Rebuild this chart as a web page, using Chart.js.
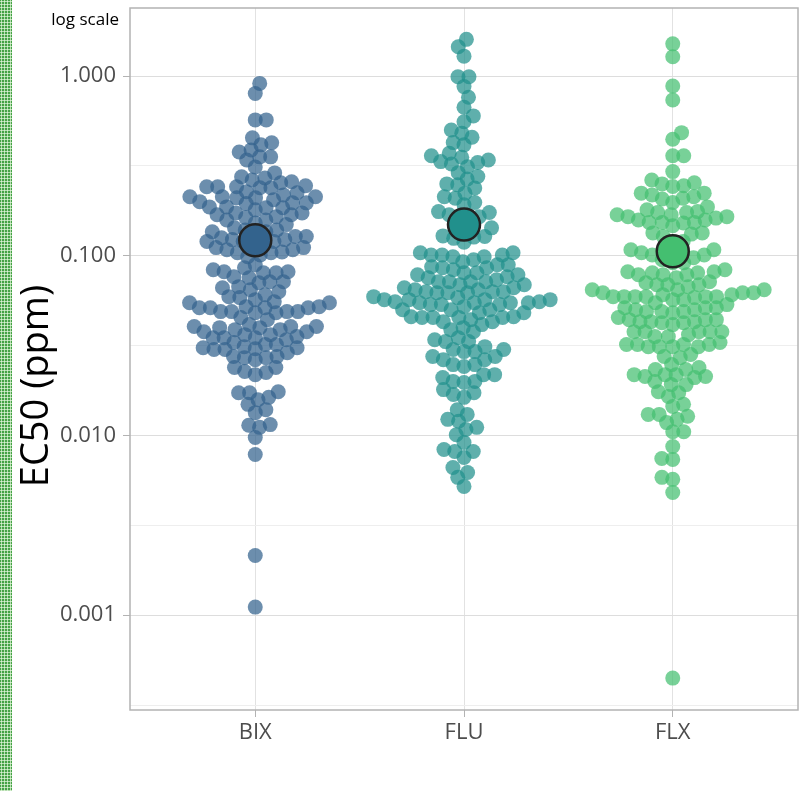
<!DOCTYPE html>
<html>
<head>
<meta charset="utf-8">
<script src="https://cdn.jsdelivr.net/npm/chart.js@4.4.1/dist/chart.umd.min.js"></script>
<style>
  html, body { margin: 0; padding: 0; background: #ffffff; }
  #wrap { position: relative; width: 811px; height: 791px; overflow: hidden; }
  #stripe {
    position: absolute; left: 0; top: 0; width: 12px; height: 791px;
    background-color: #45a245;
    background-image: radial-gradient(circle, #d9f0d2 0.9px, rgba(255,255,255,0) 1.3px);
    background-size: 3px 3px;
  }
  canvas { position: absolute; left: 0; top: 0; }
</style>
</head>
<body>
<div id="wrap">
  <div id="stripe"></div>
  <canvas id="chart" width="811" height="791"></canvas>
</div>
<script>
// Fungicide sensitivity (EC50, ppm) of individual isolates, per active ingredient
const categories = ['BIX', 'FLU', 'FLX'];

const bixEC50 = [
  0.91, 0.80, 0.57, 0.57,
  0.453, 0.425, 0.414, 0.388, 0.378, 0.355, 0.341, 0.355, 0.312,
  0.289, 0.271, 0.258, 0.264, 0.275, 0.245, 0.242, 0.239, 0.239, 0.242, 0.255, 0.242, 0.227, 0.224,
  0.205, 0.210, 0.210, 0.195, 0.218, 0.197, 0.213, 0.213, 0.197, 0.213, 0.187, 0.200, 0.185, 0.185, 0.180, 0.187, 0.173, 0.169, 0.173, 0.158,
  0.165, 0.163, 0.169, 0.152, 0.158, 0.149, 0.139, 0.139, 0.143, 0.136, 0.131, 0.136,
  0.123, 0.128, 0.120, 0.126, 0.118, 0.128, 0.120, 0.123, 0.120, 0.111, 0.104, 0.105, 0.108, 0.0987, 0.111, 0.104, 0.101, 0.112, 0.108,
  0.0891, 0.0815, 0.0805, 0.0836, 0.0764, 0.0815, 0.0805, 0.0858, 0.0755, 0.0673, 0.0647, 0.0717, 0.0631, 0.0708, 0.0664, 0.0717,
  0.0607, 0.0555, 0.0489, 0.0521, 0.0514, 0.0489, 0.0548, 0.0514, 0.0585, 0.0489, 0.0521, 0.0514, 0.0570, 0.0489, 0.0548, 0.0592, 0.0514, 0.0482, 0.0453, 0.0441, 0.0482,
  0.0378, 0.0404, 0.0388, 0.0341, 0.0321, 0.0350, 0.0388, 0.0350, 0.0404, 0.0364, 0.0378, 0.0414, 0.0398, 0.0355, 0.0404, 0.0350, 0.0398, 0.0364,
  0.0304, 0.0271, 0.0308, 0.0275, 0.0301, 0.0308, 0.0275, 0.0321, 0.0289, 0.0312, 0.0271, 0.0329, 0.0301, 0.0239, 0.0218, 0.0227, 0.0224, 0.0264, 0.0239,
  0.0163, 0.0173, 0.0173, 0.0175, 0.0158, 0.0149, 0.0139, 0.0134, 0.0115, 0.0111, 0.0114, 0.00975, 0.00784,
  0.00215, 0.00111
];

const fluEC50 = [
  1.60, 1.455, 1.29, 0.99, 0.99, 0.873, 0.762, 0.670, 0.600, 0.557, 0.501, 0.481, 0.456, 0.426, 0.414,
  0.372, 0.330, 0.353, 0.341, 0.360, 0.334, 0.313, 0.324, 0.290, 0.276, 0.267, 0.251, 0.238, 0.248,
  0.213, 0.223, 0.209, 0.198, 0.192, 0.176, 0.165, 0.174, 0.155, 0.138, 0.169, 0.162, 0.143, 0.129, 0.125, 0.127, 0.128, 0.119,
  0.0950, 0.101, 0.0987, 0.104, 0.0987, 0.104, 0.101, 0.101, 0.0926, 0.0869, 0.0836, 0.0891, 0.0858, 0.0891, 0.0858, 0.0805, 0.0784,
  0.0736, 0.0784, 0.0755, 0.0717, 0.0805, 0.0717, 0.0764, 0.0717, 0.0690, 0.0690, 0.0717, 0.0631, 0.0592, 0.0664, 0.0631, 0.0647, 0.0623, 0.0664, 0.0623, 0.0647, 0.0631, 0.0623,
  0.0585, 0.0482, 0.0548, 0.0501, 0.0555, 0.0501, 0.0535, 0.0570, 0.0535, 0.0548, 0.0570, 0.0521, 0.0570, 0.0535, 0.0548, 0.0555, 0.0548, 0.0570, 0.0482, 0.0441, 0.0388, 0.0414, 0.0453, 0.0458, 0.0453, 0.0430, 0.0458, 0.0430, 0.0453, 0.0378, 0.0501, 0.0453,
  0.0398, 0.0350, 0.0333, 0.0301, 0.0301, 0.0312, 0.0341, 0.0333, 0.0293, 0.0248, 0.0275, 0.0264, 0.0275, 0.0293, 0.0264, 0.0242, 0.0248, 0.0200, 0.0218, 0.0197, 0.0210, 0.0218, 0.0200, 0.0173, 0.0163, 0.0180, 0.0169,
  0.0139, 0.0131, 0.0120, 0.0123, 0.0108, 0.0111, 0.0101, 0.00914, 0.00815, 0.00836, 0.00815, 0.00755, 0.00664, 0.00623, 0.00585, 0.00521
];

const flxEC50 = [
  1.51, 1.28, 0.880, 0.736, 0.484, 0.445, 0.360, 0.360, 0.294, 0.251, 0.243, 0.255, 0.264, 0.245,
  0.207, 0.223, 0.213, 0.209, 0.223, 0.218, 0.198, 0.187, 0.169, 0.176, 0.174, 0.169, 0.165, 0.180, 0.174, 0.165,
  0.152, 0.162, 0.153, 0.158, 0.153, 0.158, 0.153, 0.147, 0.134, 0.128, 0.134, 0.132, 0.120, 0.118, 0.104, 0.108, 0.108, 0.104,
  0.101, 0.0950, 0.0975, 0.101, 0.0914, 0.0836, 0.0914,
  0.0784, 0.0805, 0.0784, 0.0717, 0.0784, 0.0805, 0.0815, 0.0815, 0.0755, 0.0690, 0.0673, 0.0647, 0.0690, 0.0647, 0.0708, 0.0690,
  0.0592, 0.0647, 0.0623, 0.0585, 0.0607, 0.0592, 0.0623, 0.0570, 0.0592, 0.0592, 0.0570, 0.0607, 0.0592, 0.0623, 0.0592, 0.0548,
  0.0501, 0.0535, 0.0489, 0.0514, 0.0482, 0.0514, 0.0489, 0.0501, 0.0514, 0.0489, 0.0441, 0.0414, 0.0430, 0.0453, 0.0424, 0.0441, 0.0430, 0.0424, 0.0441, 0.0430,
  0.0378, 0.0378, 0.0355, 0.0378, 0.0355, 0.0378, 0.0364, 0.0378, 0.0321, 0.0312, 0.0312, 0.0321, 0.0321, 0.0329, 0.0312, 0.0312, 0.0321, 0.0271, 0.0282, 0.0275,
  0.0213, 0.0233, 0.0218, 0.0239, 0.0218, 0.0210, 0.0233, 0.0218, 0.0248, 0.0213, 0.0192, 0.0192, 0.0200, 0.0165, 0.0175, 0.0173, 0.0149, 0.0145, 0.0131, 0.0123, 0.0131, 0.0118, 0.0128, 0.0105, 0.0105,
  0.00869, 0.00736, 0.00745, 0.00570, 0.00585, 0.00482, 0.000447
];

// Group means (large outlined circles)
const meanEC50 = [0.122, 0.149, 0.106];

// y-axis tick values: labelled decades and unlabelled half-decades
const yMajorTicks = [0.001, 0.01, 0.1, 1];
const yMinorTicks = [0.000316, 0.00316, 0.0316, 0.316];

const groups = [bixEC50, fluEC50, flxEC50];
const pointColors = ['rgba(51,99,141,0.72)', 'rgba(33,144,140,0.72)', 'rgba(68,191,112,0.72)'];
const meanColors = ['#33638D', '#21908C', '#44BF70'];

const TICK_FONT = { family: "'Open Sans', 'Noto Sans', sans-serif", size: 22 };
const TICK_COLOR = '#4d4d4d';

const isMajor = v => yMajorTicks.some(t => Math.abs(Math.log10(v) - Math.log10(t)) < 0.01);

// Beeswarm: place each point at the smallest horizontal offset that keeps
// it at least `gap` pixels away from the points already placed.
function swarmOffsets(ys, gap) {
  const order = ys.map((_, i) => i).sort((a, b) => ys[b] - ys[a]);
  const placed = [];
  const xs = new Array(ys.length).fill(0);
  let flip = 1;
  for (const i of order) {
    const y = ys[i];
    const near = placed.filter(p => Math.abs(p.y - y) < gap);
    const cands = [0];
    for (const p of near) {
      const dx = Math.sqrt(gap * gap - (p.y - y) * (p.y - y));
      cands.push(p.x + dx, p.x - dx);
    }
    cands.sort((a, b) => (Math.abs(a) - Math.abs(b)) || (flip * (b - a)));
    let chosen = 0;
    for (const c of cands) {
      if (near.every(p => (p.x - c) ** 2 + (p.y - y) ** 2 >= gap * gap - 1e-6)) { chosen = c; break; }
    }
    flip = -flip;
    xs[i] = chosen;
    placed.push({ x: chosen, y });
  }
  return xs;
}

const textPlugin = {
  id: 'panelText',
  beforeDatasetsDraw(chart) {
    const { ctx, chartArea: a } = chart;
    ctx.save();
    ctx.strokeStyle = '#b3b3b3';
    ctx.lineWidth = 1.5;
    ctx.strokeRect(a.left, a.top, a.right - a.left, a.bottom - a.top);
    ctx.restore();
  },
  afterDraw(chart) {
    const { ctx } = chart;
    ctx.save();
    ctx.fillStyle = '#000000';
    ctx.font = "17px 'Open Sans', 'Noto Sans', sans-serif";
    ctx.textAlign = 'right';
    ctx.textBaseline = 'alphabetic';
    ctx.fillText('log scale', 119, 25);
    ctx.translate(48, 386);
    ctx.rotate(-Math.PI / 2);
    ctx.textAlign = 'center';
    ctx.font = "38px 'Open Sans', 'Noto Sans', sans-serif";
    ctx.fillText('EC50 (ppm)', 0, 0);
    ctx.restore();
  }
};

const datasets = [
  {
    label: 'mean',
    data: meanEC50.map((v, i) => ({ x: i + 1, y: v })),
    pointRadius: 16,
    pointBackgroundColor: meanColors,
    pointBorderColor: '#222222',
    pointBorderWidth: 2.5,
    showLine: false,
    order: 0
  },
  ...groups.map((vals, g) => ({
    label: categories[g],
    data: vals.map(v => ({ x: g + 1, y: v })),
    pointRadius: 7.5,
    pointBackgroundColor: pointColors[g],
    pointBorderWidth: 0,
    showLine: false,
    order: 1
  }))
];

const chart = new Chart(document.getElementById('chart'), {
  type: 'scatter',
  data: { datasets },
  options: {
    responsive: false,
    animation: false,
    events: [],
    layout: { autoPadding: false, padding: { left: 0, top: 8, right: 13, bottom: 0 } },
    plugins: { legend: { display: false }, tooltip: { enabled: false } },
    scales: {
      x: {
        type: 'linear',
        min: 0.4,
        max: 3.6,
        afterBuildTicks: s => { s.ticks = categories.map((c, i) => ({ value: i + 1 })); },
        afterFit: s => { s.height = 81; s.paddingLeft = 0; s.paddingRight = 0; },
        ticks: {
          callback: v => categories[Math.round(v) - 1],
          font: TICK_FONT, color: TICK_COLOR, padding: 3,
          autoSkip: false, maxRotation: 0
        },
        grid: { color: '#e2e2e2', lineWidth: 1, tickLength: 7, tickColor: '#b3b3b3' },
        border: { display: false }
      },
      y: {
        type: 'logarithmic',
        min: 0.000297,
        max: 2.39,
        afterBuildTicks: s => {
          s.ticks = [...yMajorTicks, ...yMinorTicks].sort((a, b) => a - b).map(v => ({ value: v }));
        },
        afterFit: s => { s.width = 130; s.paddingTop = 0; s.paddingBottom = 0; },
        ticks: {
          callback: v => (isMajor(v) ? v.toFixed(3) : ''),
          font: TICK_FONT, color: TICK_COLOR, padding: 7, autoSkip: false
        },
        grid: {
          color: c => (c.tick && isMajor(c.tick.value) ? '#dddddd' : '#eeeeee'),
          lineWidth: 1,
          tickLength: 7,
          tickColor: c => (c.tick && isMajor(c.tick.value) ? '#b3b3b3' : 'rgba(0,0,0,0)')
        },
        border: { display: false }
      }
    }
  },
  plugins: [textPlugin]
});

// Spread each group's points sideways with the beeswarm layout
(function layoutSwarm() {
  const xs = chart.scales.x, ys = chart.scales.y;
  const pxPerUnit = xs.getPixelForValue(2) - xs.getPixelForValue(1);
  groups.forEach((vals, g) => {
    const py = vals.map(v => ys.getPixelForValue(v));
    const off = swarmOffsets(py, 11);
    chart.data.datasets[g + 1].data = vals.map((v, i) => ({ x: g + 1 + off[i] / pxPerUnit, y: v }));
  });
  chart.update('none');
})();
</script>
</body>
</html>
